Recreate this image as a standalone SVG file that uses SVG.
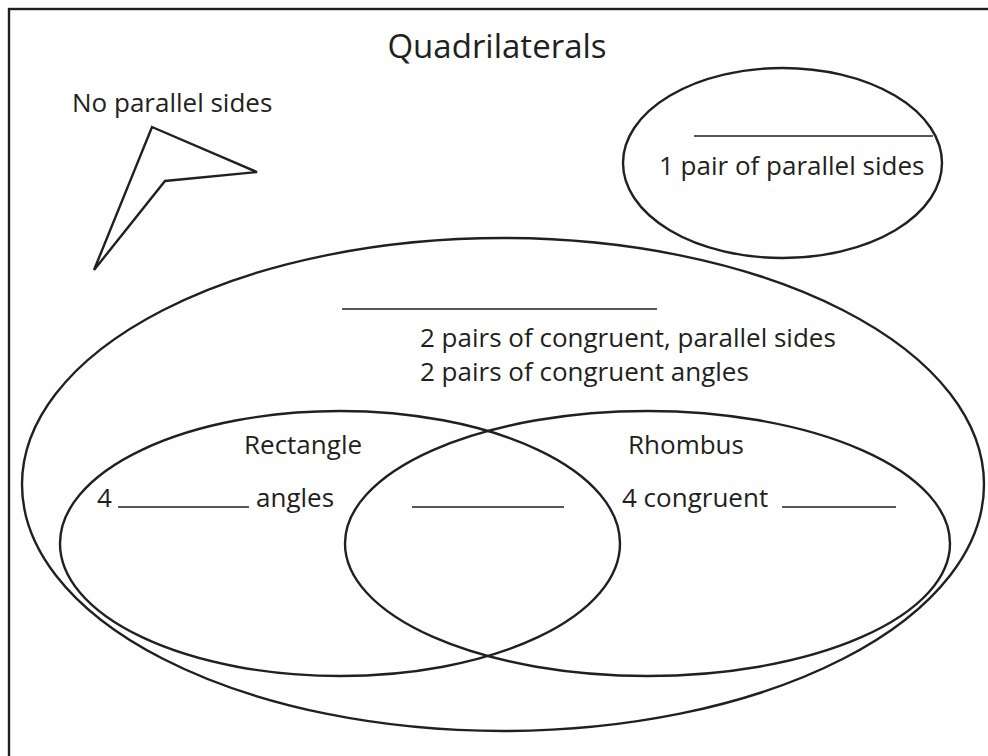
<svg xmlns="http://www.w3.org/2000/svg" width="988" height="756" viewBox="0 0 988 756">
<style>
.s{fill:none;stroke:#231f20;stroke-width:2.4}
.ln{stroke:#231f20;stroke-width:1.6}
text{font-family:"Open Sans","Noto Sans",sans-serif;fill:#231f20;font-size:26px}
.t{font-size:33px}
</style>
<rect width="988" height="756" fill="#fff"/>
<rect x="9" y="9" width="1000" height="800" class="s"/>
<g id="title"><text class="t" x="497" y="58" text-anchor="middle">Quadrilaterals</text></g>
<g id="noparallel">
<text x="72" y="112">No parallel sides</text>
<polygon class="s" points="152,127 257,172 165,181 94,270" stroke-linejoin="miter"/>
</g>
<g id="trapezoid">
<ellipse class="s" cx="782.5" cy="163" rx="159.5" ry="95"/>
<line class="ln" x1="694" y1="136" x2="933" y2="136"/>
<text x="659" y="175">1 pair of parallel sides</text>
</g>
<g id="parallelogram">
<ellipse class="s" cx="503" cy="484.5" rx="481" ry="246.5"/>
<line class="ln" x1="342" y1="309" x2="657" y2="309"/>
<text x="420" y="347">2 pairs of congruent, parallel sides</text>
<text x="420" y="381">2 pairs of congruent angles</text>
</g>
<g id="rectangle">
<ellipse class="s" cx="340" cy="543.5" rx="280" ry="132.5"/>
<text x="244" y="454">Rectangle</text>
<text x="97" y="507">4</text>
<line class="ln" x1="118" y1="507" x2="249" y2="507"/>
<text x="256" y="507">angles</text>
</g>
<g id="rhombus">
<ellipse class="s" cx="647.5" cy="543.5" rx="302.5" ry="132.5"/>
<text x="628" y="454">Rhombus</text>
<text x="622" y="507">4 congruent</text>
<line class="ln" x1="782" y1="507" x2="896" y2="507"/>
</g>
<g id="square">
<line class="ln" x1="412" y1="507" x2="564" y2="507"/>
</g>
</svg>
